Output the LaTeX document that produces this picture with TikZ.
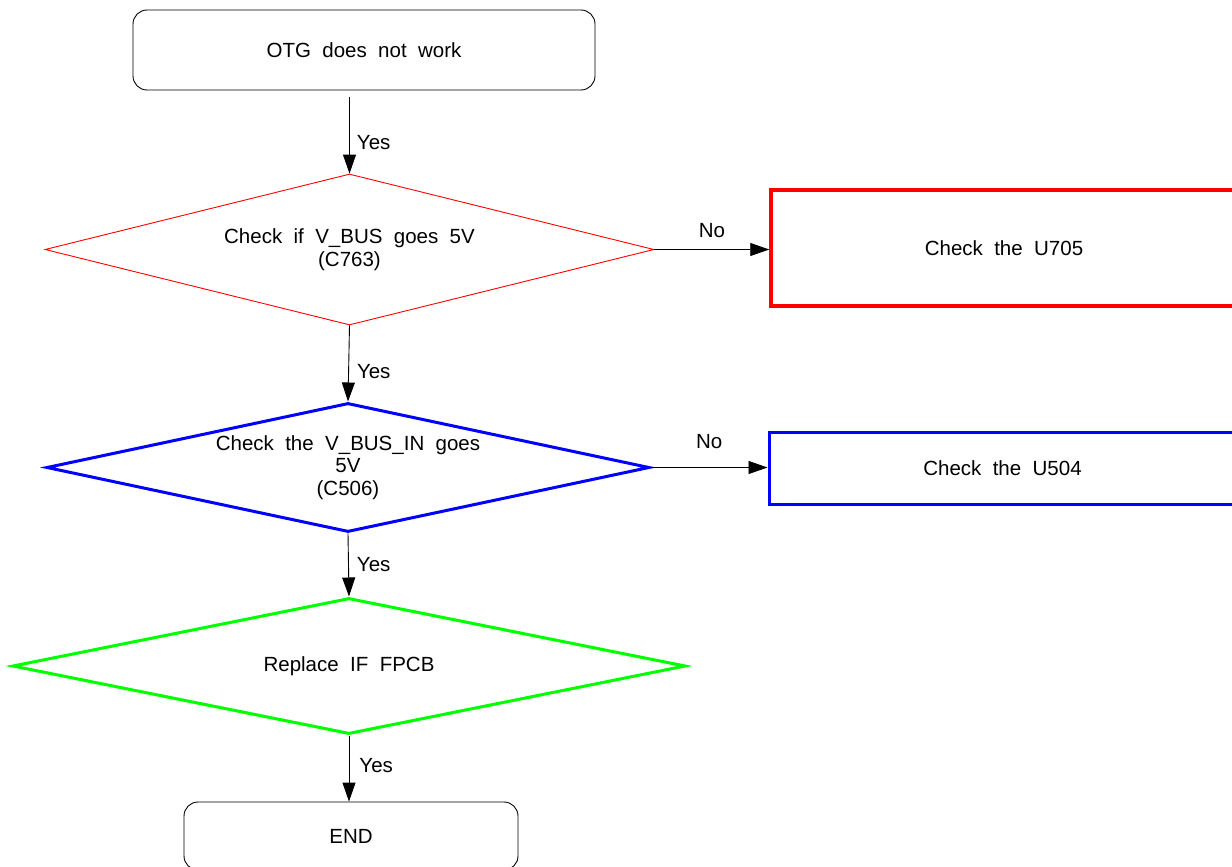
\documentclass[tikz,border=0pt]{standalone}
\usepackage{fontspec}
\setmainfont{Liberation Sans}
\usetikzlibrary{shapes.geometric,arrows.meta}
\begin{document}
\begin{tikzpicture}[x=1pt,y=-1pt,
  font=\fontsize{20.5}{22.5}\selectfont,
  termbox/.style={draw=black, line width=0.9pt, rounded corners=14pt, inner sep=0pt, align=center},
  decision/.style={diamond, inner sep=0pt, align=center},
  actbox/.style={rectangle, inner sep=0pt, align=center},
  arr/.style={draw=black, line width=0.9pt, -{Triangle[length=19pt,width=13pt]}},
  lbl/.style={inner sep=0pt}]
\useasboundingbox (0,0) rectangle (1232,867);

\node[termbox, minimum width=462pt, minimum height=80pt] (start) at (364,50) {OTG~~does~~not~~work};

\node[decision, draw=red, line width=0.9pt, shape aspect=4.03, minimum width=609pt, minimum height=151pt] (d1) at (349.5,249.5)
  {Check~~if~~V\_BUS~~goes~~5V\\(C763)};

\node[decision, draw=blue, line width=3pt, shape aspect=4.64, minimum width=603pt, minimum height=129pt] (d2) at (348,467.5)
  {Check~~the~~V\_BUS\_IN~~goes\\5V\\(C506)};

\node[decision, draw=green, line width=3pt, shape aspect=4.91, minimum width=673pt, minimum height=136pt] (d3) at (349,666)
  {Replace~~IF~~FPCB};

\node[actbox, draw=red, line width=3.5pt, minimum width=466pt, minimum height=116pt] (u705) at (1004,248)
  {Check~~the~~U705};

\node[actbox, draw=blue, line width=3pt, minimum width=467pt, minimum height=72pt] (u504) at (1002.5,468)
  {Check~~the~~U504};

\node[termbox, minimum width=334pt, minimum height=68pt] (end) at (351,836) {END};

\draw[arr, shorten <=7pt] (d1.north |- start.south) -- (d1.north)
  node[lbl, pos=0.63, anchor=west, xshift=7pt] {Yes};
\draw[arr] (d1.south) -- (d2.north)
  node[lbl, pos=0.61, anchor=west, xshift=8pt] {Yes};
\draw[arr] (d2.south) -- (d3.north)
  node[lbl, pos=0.5, anchor=west, xshift=8pt] {Yes};
\draw[arr] (d3.south) -- (d3.south |- end.north)
  node[lbl, pos=0.45, anchor=west, xshift=10pt] {Yes};

\draw[arr] (d1.east) -- (d1.east -| u705.west)
  node[lbl, pos=0.5, yshift=19pt] {No};
\draw[arr] (d2.east) -- (d2.east -| u504.west)
  node[lbl, pos=0.5, yshift=26pt] {No};
\end{tikzpicture}
\end{document}
